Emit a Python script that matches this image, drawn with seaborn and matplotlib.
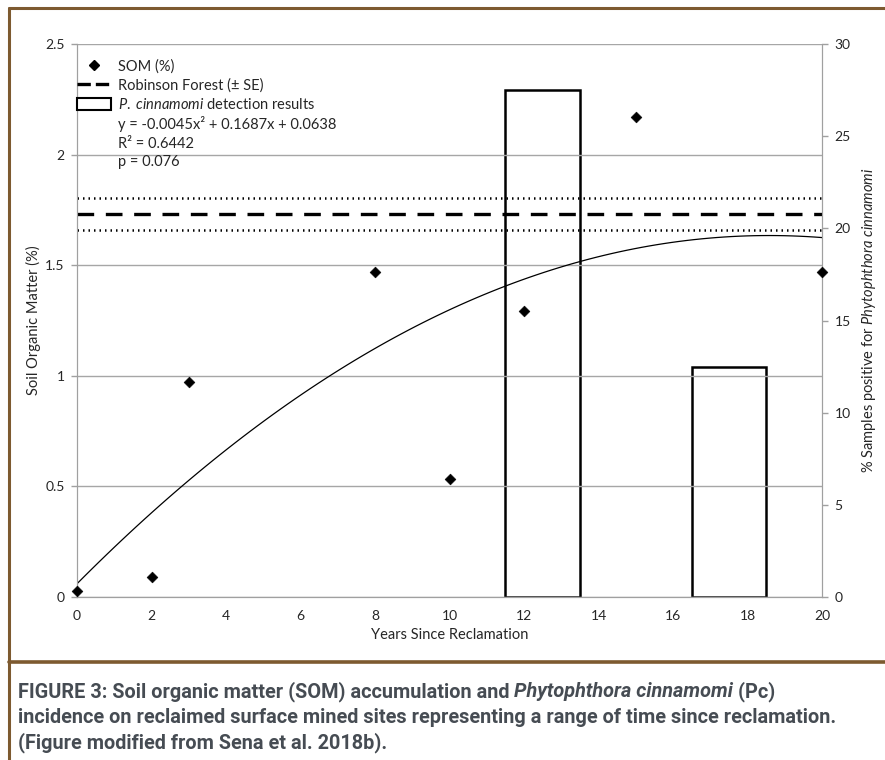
import numpy as np
import pandas as pd
import matplotlib
matplotlib.use("Agg")
import matplotlib.pyplot as plt
import seaborn as sns
from matplotlib.lines import Line2D
from matplotlib.patches import Patch
from matplotlib import font_manager

# SOM samples (years since reclamation, % SOM)
years = [0, 2, 3, 8, 10, 12, 15, 20]
som = [0.027, 0.09, 0.97, 1.47, 0.535, 1.295, 2.17, 1.47]

# P. cinnamomi detection (% samples positive)
pc_years = [12.5, 17.5]
pc_positive = [27.5, 12.5]

# Robinson Forest reference (mean +- SE)
forest_mean = 1.733
forest_se = 0.072

x_ticks = [0, 2, 4, 6, 8, 10, 12, 14, 16, 18, 20]
y_ticks = [0, 0.5, 1, 1.5, 2, 2.5]
y2_ticks = [0, 5, 10, 15, 20, 25, 30]

BROWN = "#7d5a30"
CAPTION = "#464c53"

sns.set_style("white")
installed = {f.name for f in font_manager.fontManager.ttflist}
base_font = "Lato" if "Lato" in installed else "Open Sans"
plt.rcParams["font.family"] = [base_font, "DejaVu Sans"]
plt.rcParams["mathtext.fontset"] = "custom"
plt.rcParams["mathtext.rm"] = base_font
plt.rcParams["mathtext.it"] = base_font + ":italic"

df = pd.DataFrame({"years": years, "som": som})

fig = plt.figure(figsize=(8.85, 7.6), dpi=100)
W, H = 885, 760
ax = fig.add_axes([77 / W, (H - 597) / H, (822 - 77) / W, 553 / H])
ax2 = ax.twinx()

# bars on secondary axis
ax2.bar(pc_years, pc_positive, width=2, fill=False, edgecolor="black", linewidth=1.8, zorder=3)
ax2.set_ylim(0, 30)
ax2.set_yticks(y2_ticks)

ax.set_zorder(ax2.get_zorder() + 1)
ax.patch.set_visible(False)

# robinson forest lines
ax.axhline(forest_mean, color="black", lw=2.4, ls=(0, (5, 3.5)))
ax.axhline(forest_mean + forest_se, color="black", lw=1.8, ls=(0, (0.6, 1.6)))
ax.axhline(forest_mean - forest_se, color="black", lw=1.8, ls=(0, (0.6, 1.6)))

# polynomial trendline
sns.regplot(data=df, x="years", y="som", order=2, ci=None, scatter=False, truncate=True,
            line_kws={"color": "black", "lw": 0.9}, ax=ax)
sns.scatterplot(data=df, x="years", y="som", marker="D", s=30, color="black",
                edgecolor="black", clip_on=False, zorder=5, ax=ax)

ax.set_xlim(0, 20)
ax.set_ylim(0, 2.5)
ax.set_xticks(x_ticks)
ax.set_yticks(y_ticks)
ax.set_yticklabels(["0", "0.5", "1", "1.5", "2", "2.5"])
ax.grid(axis="y", color="#a6a6a6", lw=1)
ax.set_xlabel("Years Since Reclamation", fontsize=10.5, labelpad=5)
ax.set_ylabel("Soil Organic Matter (%)", fontsize=10.5, labelpad=3)
ax2.set_ylabel(r"% Samples positive for $\it{Phytophthora\ cinnamomi}$", fontsize=10.5, labelpad=7)

for a in (ax, ax2):
    for s in a.spines.values():
        s.set_color("#a0a0a0")
    a.spines["top"].set_visible(False)
    a.tick_params(labelsize=10, length=4, color="#a0a0a0", width=1, pad=5)

handles = [
    Line2D([], [], marker="D", color="black", ls="none", markersize=5),
    Line2D([], [], color="black", lw=2.4, ls=(0, (4, 1.5))),
    Patch(facecolor="white", edgecolor="black", lw=1.5),
    Line2D([], [], ls="none"),
    Line2D([], [], ls="none"),
    Line2D([], [], ls="none"),
]
labels = [
    "SOM (%)",
    "Robinson Forest (± SE)",
    r"$\it{P.\ cinnamomi}$ detection results",
    "y = -0.0045x² + 0.1687x + 0.0638",
    "R² = 0.6442",
    "p = 0.076",
]
ax.legend(handles, labels, loc="upper left", bbox_to_anchor=(0, 0.972), frameon=False,
          fontsize=10.5, borderaxespad=0, borderpad=0, handlelength=2.3,
          handletextpad=0.5, labelspacing=0.3, handleheight=0.9)

# brown frame
fig.add_artist(Line2D([9 / W, 1], [1 - 8 / H, 1 - 8 / H], color=BROWN, lw=2.2))
fig.add_artist(Line2D([9 / W, 9 / W], [0, 1 - 8 / H], color=BROWN, lw=2.2))
fig.add_artist(Line2D([9 / W, 1], [(H - 662) / H, (H - 662) / H], color=BROWN, lw=2.6))

# caption
cap_font = "Liberation Sans Narrow" if "Liberation Sans Narrow" in installed else "Roboto"
cap_size = 17 if cap_font == "Liberation Sans Narrow" else 14.3
renderer = fig.canvas.get_renderer()
caption = [
    [("FIGURE 3: Soil organic matter (SOM) accumulation and ", "normal"),
     ("Phytophthora cinnamomi", "italic"), (" (Pc)", "normal")],
    [("incidence on reclaimed surface mined sites representing a range of time since reclamation.", "normal")],
    [("(Figure modified from Sena et al. 2018b).", "normal")],
]
baselines = [697, 723, 748]
for parts, yb in zip(caption, baselines):
    x = 18 / W
    for txt, st in parts:
        t = fig.text(x, (H - yb) / H, txt, fontsize=cap_size, fontweight="bold", style=st,
                     color=CAPTION, family=[cap_font, "DejaVu Sans"], va="baseline")
        bb = t.get_window_extent(renderer)
        x = bb.x1 / fig.bbox.width

fig.savefig("out.png", dpi=100)
